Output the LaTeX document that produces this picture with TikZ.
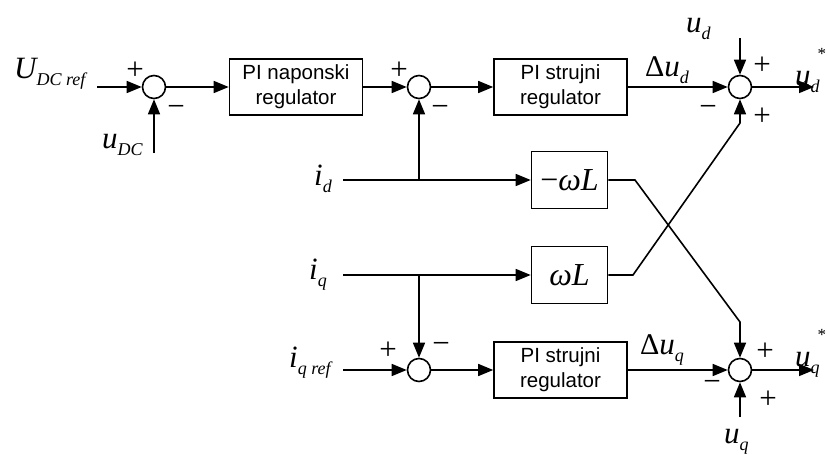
\documentclass[tikz,border=0pt]{standalone}
\usepackage{fontspec}
\setmainfont{Liberation Serif}
\newfontfamily\boxfont{Liberation Sans}
\usetikzlibrary{arrows.meta}
\newcommand{\bigv}[1]{{\fontsize{31}{34}\selectfont\itshape #1}}
\newcommand{\bigup}[1]{{\fontsize{30}{34}\selectfont #1}}
\newcommand{\subv}[1]{\raisebox{-7pt}{\fontsize{18}{20}\selectfont\itshape #1}}
\newcommand{\starv}{\rlap{\kern-2pt\raisebox{26pt}{\fontsize{17}{18}\selectfont *}}}
\begin{document}
\begin{tikzpicture}[x=1pt,y=-1pt,
  sumnode/.style={circle,draw,line width=1.6pt,minimum size=23pt,inner sep=0pt},
  blk/.style={draw,line width=1.6pt,minimum width=133pt,minimum height=56pt,align=center,inner sep=0pt,font=\boxfont\fontsize{20.5}{25}\selectfont},
  gain/.style={draw,line width=1.6pt,minimum width=76pt,minimum height=57pt,inner sep=0pt,font=\fontsize{32}{34}\selectfont},
  sig/.style={line width=1.6pt,-{Triangle[length=15pt,width=12pt]}},
  sgn/.style={font=\fontsize{31}{31}\selectfont,inner sep=0pt},
  lab/.style={inner sep=0pt,anchor=base west}]
\useasboundingbox (0,0) rectangle (828,455);
% blocks
\node[sumnode] (s1) at (154,87) {};
\node[blk] (b1) at (296,87) {PI naponski\\regulator};
\node[sumnode] (s2) at (419,87) {};
\node[blk] (b2) at (560.5,87) {PI strujni\\regulator};
\node[sumnode] (s3) at (740,87) {};
\node[gain] (g1) at (569.5,180) {\textminus\textit{ωL}};
\node[gain] (g2) at (569.5,275) {\textit{ωL}};
\node[sumnode] (s5) at (419,370) {};
\node[blk] (b3) at (560.5,370) {PI strujni\\regulator};
\node[sumnode] (s4) at (740,370) {};
% free ends
\coordinate (udcref) at (97,87);
\coordinate (udc) at (154,153);
\coordinate (id) at (343,180);
\coordinate (iq) at (343,275);
\coordinate (iqref) at (343,370);
\coordinate (ud) at (740,38);
\coordinate (uq) at (740,417);
\coordinate (udout) at (814,87);
\coordinate (uqout) at (814,370);
\coordinate (k1) at (635,180);
\coordinate (k2) at (633,275);
\coordinate (d1) at (740,322);
\coordinate (d2) at (740,123);
% connectors
\draw[sig] (udcref) -- (s1);
\draw[sig] (udc) -- (s1);
\draw[sig] (s1) -- (b1);
\draw[sig] (b1) -- (s2);
\draw[sig] (s2) -- (b2);
\draw[sig] (b2) -- (s3);
\draw[sig] (ud) -- (s3);
\draw[sig] (s3) -- (udout);
\draw[sig] (id) -- (g1);
\draw[sig] (s2 |- id) -- (s2);
\draw[sig] (iq) -- (g2);
\draw[sig] (s5 |- iq) -- (s5);
\draw[sig] (iqref) -- (s5);
\draw[sig] (s5) -- (b3);
\draw[sig] (b3) -- (s4);
\draw[sig] (uq) -- (s4);
\draw[sig] (s4) -- (uqout);
\draw[sig] (g1) -- (k1) -- (d1) -- (s4);
\draw[sig] (g2) -- (k2) -- (d2) -- (s3);
% signal labels
\node[lab] (lUdc) at (14,78) {\bigv{U}\subv{DC ref}};
\node[lab] (ludc) at (102,148) {\bigv{u}\subv{DC}};
\node[lab] (lid) at (314,185) {\bigv{i}\subv{d}};
\node[lab] (liq) at (309,279) {\bigv{i}\subv{q}};
\node[lab] (liqref) at (289,367) {\bigv{i}\subv{q ref}};
\node[lab] (ldud) at (645,76) {\bigup{Δ}\bigv{u}\subv{d}};
\node[lab] (ldu_q) at (640,354) {\bigup{Δ}\bigv{u}\subv{q}};
\node[lab] (lud) at (686,32) {\bigv{u}\subv{d}};
\node[lab] (luq) at (724,443) {\bigv{u}\subv{q}};
\node[lab] (luds) at (795,85) {\bigv{u}\subv{d}\starv};
\node[lab] (luqs) at (795,366) {\bigv{u}\subv{q}\starv};
% signs
\node[sgn] (p1) at (135,71) {+};
\node[sgn] (m1) at (176,111) {\textminus};
\node[sgn] (p2) at (399,71) {+};
\node[sgn] (m2) at (440,111) {\textminus};
\node[sgn] (p3a) at (762,66) {+};
\node[sgn] (m3) at (708,111) {\textminus};
\node[sgn] (p3b) at (762,117) {+};
\node[sgn] (p5) at (388,351) {+};
\node[sgn] (m5) at (441,348) {\textminus};
\node[sgn] (p4a) at (765,352) {+};
\node[sgn] (m4) at (712,386) {\textminus};
\node[sgn] (p4b) at (768,400) {+};
\end{tikzpicture}
\end{document}
